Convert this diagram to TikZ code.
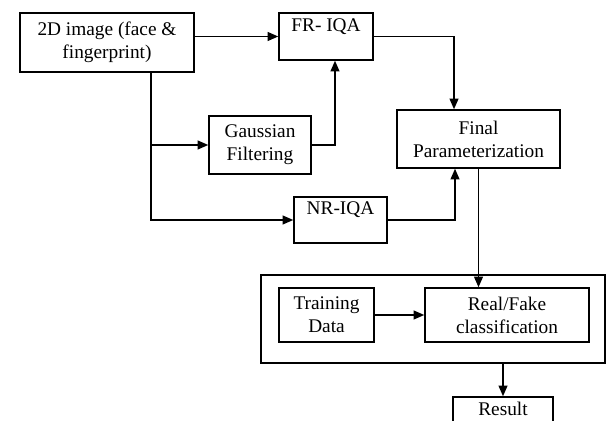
\documentclass[tikz,border=0pt]{standalone}
\usepackage{fontspec}
\setmainfont{Liberation Serif}
\usetikzlibrary{arrows.meta, positioning, calc}

\begin{document}
\begin{tikzpicture}[x=0.02cm, y=-0.02cm, line width=0.85pt,
    font=\fontsize{11}{13}\selectfont,
    box/.style={draw, align=center, inner sep=0pt},
    arr/.style={-{Triangle[length=6pt, width=5pt]}}]
  \useasboundingbox (0,0) rectangle (607,421);
  % input and quality measures
  \node[box, minimum width=3.48cm, minimum height=1.18cm] (img) at (107,42.5)
    {2D image (face \&\\ fingerprint)};
  \node[box, minimum width=1.88cm, minimum height=0.94cm] (fr) at (326,36.5)
    {FR- IQA\\ \mbox{}};
  \node[box, minimum width=2.04cm, minimum height=1.16cm] (gauss) at (260,145)
    {Gaussian\\ Filtering};
  \node[box, minimum width=3.26cm, minimum height=1.16cm] (final) at (478.5,139)
    {Final\\ Parameterization};
  \node[box, minimum width=1.86cm, minimum height=0.92cm] (nr) at (340.5,220)
    {NR-IQA\\ \mbox{}};
  % classification stage
  \node[box, minimum width=6.88cm, minimum height=1.76cm] (stage) at (433,319) {};
  \node[box, minimum width=1.90cm, minimum height=1.08cm] (train) at (326.5,315)
    {Training\\ Data};
  \node[box, minimum width=3.28cm, minimum height=1.08cm] (real) at (507,315)
    {Real/Fake\\ classification};
  \node[box, minimum width=2.00cm, minimum height=0.92cm] (result) at (503,420)
    {Result\\ \mbox{}};
  % connectors
  \coordinate (tap) at ($(img.south west)!.75!(img.south east)$);
  \draw[arr] (fr.west -| img.east) -- (fr.west);
  \draw[arr] (tap) |- (gauss.west);
  \draw[arr] (tap) |- (nr.west);
  \draw[arr] (gauss.east) -| ([xshift=0.18cm]fr.south);
  \draw[arr] (fr.east) -| ([xshift=-0.49cm]final.north);
  \draw[arr] (nr.east) -| ([xshift=-0.47cm]final.south);
  \draw[arr] (final.south) -- (final.south |- real.north);
  \draw[arr] (train.east) -- (real.west);
  \draw[arr] (result.north |- stage.south) -- (result.north);
\end{tikzpicture}
\end{document}
